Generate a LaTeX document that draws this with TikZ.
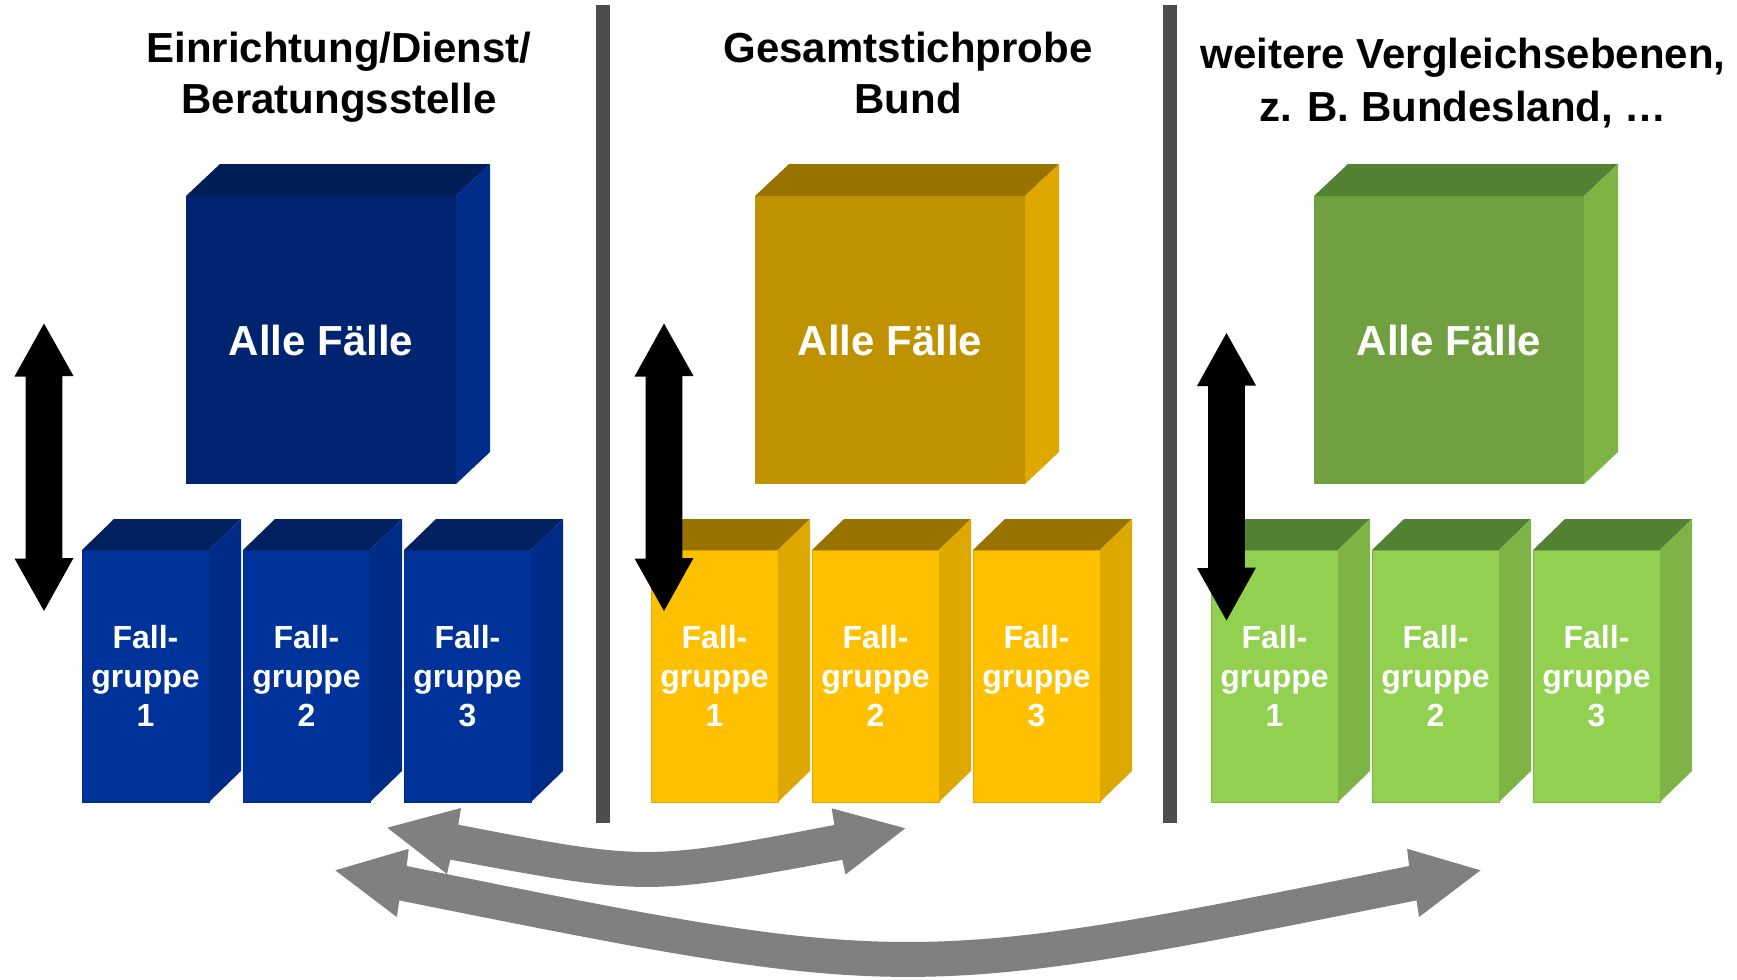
\documentclass[tikz,border=0pt]{standalone}
\usepackage{fontspec}
\setmainfont{Liberation Sans}
\definecolor{cbbigfront}{RGB}{1,36,112}
\definecolor{cbbigtop}{RGB}{1,30,88}
\definecolor{cbbigside}{RGB}{0,44,138}
\definecolor{cbfront}{RGB}{0,51,153}
\definecolor{cbtop}{RGB}{1,32,96}
\definecolor{cbside}{RGB}{0,44,136}
\definecolor{cybigfront}{RGB}{192,145,0}
\definecolor{cybigtop}{RGB}{153,115,0}
\definecolor{cybigside}{RGB}{223,168,0}
\definecolor{cyfront}{RGB}{255,192,0}
\definecolor{cytop}{RGB}{153,115,0}
\definecolor{cyside}{RGB}{223,168,0}
\definecolor{cgbigfront}{RGB}{112,160,63}
\definecolor{cgbigtop}{RGB}{84,130,53}
\definecolor{cgbigside}{RGB}{126,180,70}
\definecolor{cgfront}{RGB}{146,208,80}
\definecolor{cgtop}{RGB}{84,130,53}
\definecolor{cgside}{RGB}{126,180,70}
\definecolor{arrgray}{RGB}{128,128,128}
\definecolor{sepgray}{RGB}{77,77,77}
\newcommand{\bigcube}[3]{%
  \node[face, minimum width=135pt, minimum height=144pt, fill=#3bigfront, alltext] (#1) at (#2,196) {\raisebox{-1.1pt}{Alle Fälle}};
  \fill[#3bigtop] (#1.north west) -- ++(34,-32) -- ++(270,0) -- (#1.north east) -- cycle;
  \fill[#3bigside] (#1.north east) -- ++(34,-32) -- ++(0,288) -- (#1.south east) -- cycle;
}
\newcommand{\smallcube}[4]{%
  \node[face, minimum width=63.5pt, minimum height=126pt, fill=#3front, draw=#3side, line width=0.5pt, grptext] (#1) at (#2,550) {Fall-\\gruppe\\#4};
  \fill[#3top] (#1.north west) -- ++(32,-31) -- ++(127,0) -- (#1.north east) -- cycle;
  \fill[#3side] (#1.north east) -- ++(32,-31) -- ++(0,252) -- (#1.south east) -- cycle;
}
\newcommand{\vblock}[3]{%
  \coordinate (#1-t) at (#2,#3);
  \coordinate (#1-b) at (#2,#3+287.5);
  \fill[black] (#1-t) -- ++(29.5,52.5) -- ++(-11.1,0) -- ++(0,182) -- ++(11.1,0) -- (#1-b)
    -- ++(-29.5,-52.5) -- ++(11.1,0) -- ++(0,-182) -- ++(-11.1,0) -- cycle;
}
\begin{document}
\begin{tikzpicture}[x=0.5pt,y=-0.5pt,
  title/.style={font=\fontsize{21}{25.5}\selectfont\bfseries, anchor=base, inner sep=0},
  face/.style={anchor=north west, inner sep=0, outer sep=0, text=white, align=center},
  alltext/.style={font=\fontsize{21}{25}\selectfont\bfseries},
  grptext/.style={font=\fontsize{16}{19.6}\selectfont\bfseries},
]
\useasboundingbox (0,0) rectangle (1737,980);

% separators
\fill[sepgray] (596,5) rectangle (610,823);
\fill[sepgray] (1163,5) rectangle (1177,823);

% titles
\node[title] (t1a) at (339,62) {Einrichtung/Dienst/};
\node[title] (t1b) at (339,113) {Beratungsstelle};
\node[title] (t2a) at (908,62) {Gesamtstichprobe};
\node[title] (t2b) at (908,113) {Bund};
\node[title] (t3a) at (1463,68) {weitere Vergleichsebenen,};
\node[title] (t3b) at (1463,121) {z. B. Bundesland, …};

% big cubes
\bigcube{bb}{186}{cb}
\bigcube{yb}{755}{cy}
\bigcube{gb}{1314}{cg}

% small cubes
\smallcube{b1}{82}{cb}{1}
\smallcube{b2}{243}{cb}{2}
\smallcube{b3}{404}{cb}{3}
\smallcube{y1}{651}{cy}{1}
\smallcube{y2}{812}{cy}{2}
\smallcube{y3}{973}{cy}{3}
\smallcube{g1}{1211}{cg}{1}
\smallcube{g2}{1372}{cg}{2}
\smallcube{g3}{1533}{cg}{3}

% black double arrows
\vblock{ab}{44}{323.5}
\vblock{ay}{664}{323.5}
\vblock{ag}{1226.5}{333}

% gray curved double arrows
\coordinate (sL) at (387.3,827.7);
\coordinate (sR) at (905.3,828.3);
\fill[arrgray] (sL) -- (461,808) -- (458.3,824.7)
  .. controls (646.3,861) and (646.3,861) .. (834.3,825)
  -- (831.7,808.3) -- (sR) -- (845.5,874.5) -- (842.3,859.8)
  .. controls (646.3,896) and (646.3,896) .. (450.3,859.6)
  -- (447,874) -- cycle;

\coordinate (lL) at (335.3,870.3);
\coordinate (lR) at (1480.5,870.3);
\fill[arrgray] (lL) -- (408.7,848.8) -- (406.7,866)
  .. controls (907.9,967.3) and (907.9,967.3) .. (1409.1,866)
  -- (1407.1,848.8) -- (lR) -- (1419,917) -- (1416.5,900.4)
  .. controls (907.9,1002.4) and (907.9,1002.4) .. (399.3,900.4)
  -- (396.8,917) -- cycle;
\end{tikzpicture}
\end{document}
